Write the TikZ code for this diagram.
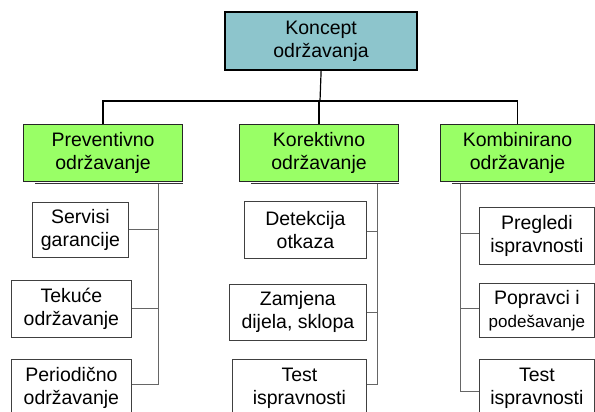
\documentclass[tikz,border=0pt]{standalone}
\usepackage{fontspec}
\setmainfont{Liberation Sans}
\definecolor{tealc}{RGB}{141,197,204}
\definecolor{greenc}{RGB}{153,255,102}
\begin{document}
\begin{tikzpicture}[x=1pt,y=-1pt,
  base/.style={rectangle, inner sep=0pt, align=center, anchor=north west,
    font=\fontsize{19.5}{23}\selectfont},
  topbox/.style={base, draw=black, line width=2.2pt, fill=tealc},
  catbox/.style={base, draw=black!85, line width=1.1pt, fill=greenc},
  subbox/.style={base, draw=black!75, line width=0.8pt, fill=white},
  mainline/.style={draw=black, line width=1.2pt},
  subline/.style={draw=black!60, line width=0.9pt},
  shadowline/.style={draw=black!80, line width=1.2pt}]
\useasboundingbox (0,0) rectangle (595,412);
% top
\node[topbox, minimum width=192pt, minimum height=58pt] (top) at (224,11) {Koncept\\održavanja};
% categories
\node[catbox, minimum width=159pt, minimum height=57pt] (prev) at (23,124) {Preventivno\\održavanje};
\node[catbox, minimum width=159pt, minimum height=57pt] (kor) at (239,124) {Korektivno\\održavanje};
\node[catbox, minimum width=154pt, minimum height=57pt] (kom) at (440,124) {Kombinirano\\održavanje};
\foreach \n in {prev,kor,kom}
  \draw[shadowline] ([xshift=12pt,yshift=-1pt]\n.south west) -- ([yshift=-1pt]\n.south east);
% column 1
\node[subbox, minimum width=96pt, minimum height=55pt] (ser) at (32,202) {Servisi\\garancije};
\node[subbox, minimum width=120pt, minimum height=57pt] (tek) at (11,280) {Tekuće\\održavanje};
\node[subbox, minimum width=120pt, minimum height=57pt] (per) at (11,359) {Periodično\\održavanje};
% column 2
\node[subbox, minimum width=122pt, minimum height=57pt] (det) at (244,201) {Detekcija\\otkaza};
\node[subbox, minimum width=137pt, minimum height=56pt] (zam) at (229,284) {Zamjena\\dijela, sklopa};
\node[subbox, minimum width=134pt, minimum height=57pt] (tst) at (232,359) {Test\\ispravnosti};
% column 3
\node[subbox, minimum width=115pt, minimum height=57pt] (pre) at (479,207) {Pregledi\\ispravnosti};
\node[subbox, minimum width=115pt, minimum height=54pt] (pop) at (479,283) {Popravci i\\{\fontsize{17}{20}\selectfont podešavanje}};
\node[subbox, minimum width=115pt, minimum height=57pt] (tsk) at (479,359) {Test\\ispravnosti};
% bus
\coordinate (bus) at (320,101);
\draw[mainline] (top.south) -- (bus);
\draw[mainline] (prev.north) -- (prev.north |- bus) -- (kom.north |- bus) -- (kom.north);
\draw[mainline] (kor.north |- bus) -- (kor.north);
% column connectors
\coordinate (pv) at ([xshift=-25pt]prev.south east);
\coordinate (kv) at ([xshift=-22pt]kor.south east);
\coordinate (mv) at ([xshift=20pt]kom.south west);
\draw[subline] ([yshift=-1.5pt]pv) |- ([yshift=-25pt]per.north east);
\draw[subline] (ser.east) -- (ser.east -| pv);
\draw[subline] (tek.east) -- (tek.east -| pv);
\draw[subline] ([yshift=-1.5pt]kv) |- ([yshift=-25pt]tst.north east);
\draw[subline] ([yshift=-2pt]det.east) -- ([yshift=-2pt]det.east -| kv);
\draw[subline] (zam.east) -- (zam.east -| kv);
\draw[subline] ([yshift=-1.5pt]mv) |- ([yshift=-32pt]tsk.north west);
\draw[subline] ([yshift=2pt]pre.west) -- ([yshift=2pt]pre.west -| mv);
\draw[subline] ([yshift=2pt]pop.west) -- ([yshift=2pt]pop.west -| mv);
\end{tikzpicture}
\end{document}
